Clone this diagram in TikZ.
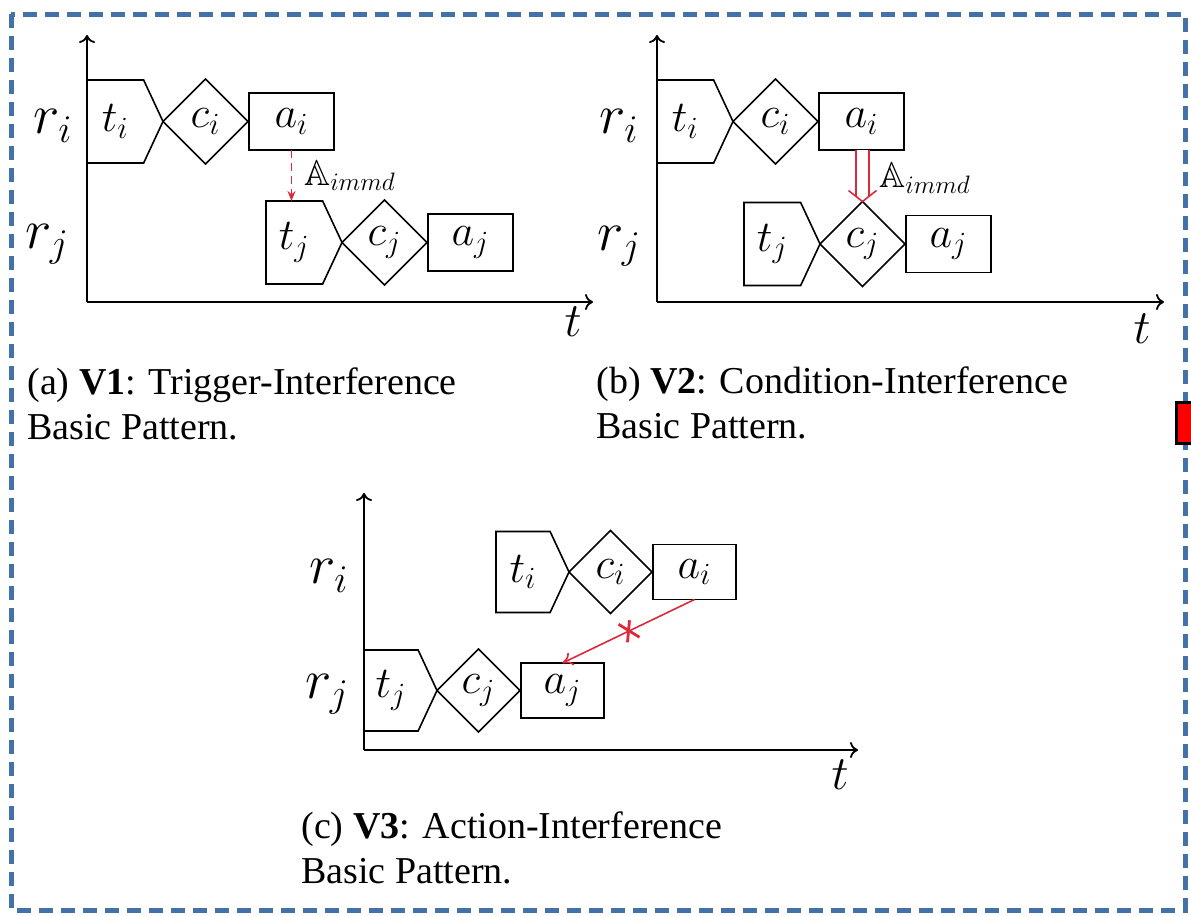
\RequirePackage{fix-cm}
\documentclass[tikz,border=0pt]{standalone}
\usepackage{amsmath,amssymb}
\usepackage{fontspec}
\setmainfont{Liberation Serif}
\usepackage{tikz}
\usetikzlibrary{shapes.geometric,shapes.symbols,arrows.meta,positioning,calc}
\definecolor{frameblue}{RGB}{68,114,168}
\definecolor{linkred}{RGB}{222,40,60}

\begin{document}
\begin{tikzpicture}[x=0.5pt,y=-0.5pt,
  every node/.style={font=\fontsize{22}{26}\selectfont},
  trig/.style={draw,signal,signal to=east,signal pointer angle=130,minimum width=38pt,minimum height=41.5pt,inner sep=0pt,outer sep=0pt,line width=0.8pt},
  cond/.style={draw,diamond,aspect=1,minimum size=42.5pt,inner sep=0pt,outer sep=0pt,line width=0.8pt},
  act/.style={draw,rectangle,minimum width=42.5pt,minimum height=28.5pt,inner sep=0pt,outer sep=0pt,line width=0.8pt},
  taxis/.style={line width=0.9pt,-{To[length=4pt,width=8pt]}},
  res/.style={font=\fontsize{28}{32}\selectfont},
  tlbl/.style={font=\fontsize{24}{28}\selectfont},
  immd/.style={font=\fontsize{18}{20}\selectfont,text=black,inner sep=0pt},
  capt/.style={font=\fontsize{19}{22.5}\selectfont,align=left,anchor=north west,inner sep=0pt}]
\useasboundingbox (0,0) rectangle (1191,916);
\draw[frameblue,line width=2.5pt,dash pattern=on 7pt off 4pt] (11,14) rectangle (1185,910);
\draw[fill=red,line width=1.5pt] (1176,402) rectangle (1205,443);

% (a) trigger interference
\coordinate (oa) at (87,302);
\draw[taxis] (oa) -- (87,35);
\draw[taxis] (oa) -- (593,302);
\node[trig,anchor=west] (ati) at (87,121.5) {$t_i$};
\node[cond,right=0pt of ati] (aci) {$c_i$};
\node[act,right=0.5pt of aci] (aai) {$a_i$};
\node[trig,anchor=west] (atj) at (266,242.5) {$t_j$};
\node[cond,right=0pt of atj] (acj) {$c_j$};
\node[act,right=0.5pt of acj] (aaj) {$a_j$};
\node[res] (ari) at (53,126) {$r_i$};
\node[res] (arj) at (47,244) {$r_j$};
\node[tlbl] (at) at (573,322) {$t$};
\draw[linkred,line width=0.8pt,dash pattern=on 4pt off 2.5pt,-{Stealth[length=5pt,width=4pt]}] (aai.south) -- (aai.south |- atj.north)
  node[immd,midway,right=6pt] (aimmd) {$\mathbb{A}_{immd}$};
\node[capt] (capa) at (27,367) {(a) \textbf{V1}: Trigger-Interference\\Basic Pattern.};

% (b) condition interference
\coordinate (ob) at (657,302);
\draw[taxis] (ob) -- (657,35);
\draw[taxis] (ob) -- (1164,302);
\node[trig,anchor=west] (bti) at (657,121.5) {$t_i$};
\node[cond,right=0pt of bti] (bci) {$c_i$};
\node[act,right=0.5pt of bci] (bai) {$a_i$};
\node[trig,anchor=west] (btj) at (744,244) {$t_j$};
\node[cond,right=0pt of btj] (bcj) {$c_j$};
\node[act,right=0.5pt of bcj] (baj) {$a_j$};
\node[res] (bri) at (619,126) {$r_i$};
\node[res] (brj) at (619,246) {$r_j$};
\node[tlbl] (bt) at (1142,329) {$t$};
\draw[linkred,double=white,double distance=5.6pt,line width=0.9pt] (bcj.north |- bai.south) -- ($(bcj.north)+(0,-5)$)
  node[immd,pos=0.6,right=8pt] (bimmd) {$\mathbb{A}_{immd}$};
\draw[linkred,line width=0.8pt,line join=miter] ($(bcj.north)+(-14,-11)$) -- (bcj.north) -- ($(bcj.north)+(14,-11)$);
\node[capt] (capb) at (596,366) {(b) \textbf{V2}: Condition-Interference\\Basic Pattern.};

% (c) action interference
\begin{scope}[trig/.append style={minimum width=36.5pt,minimum height=40.5pt},
  cond/.append style={minimum size=41.5pt},
  act/.append style={minimum width=41.5pt,minimum height=27.5pt}]
\coordinate (oc) at (364,750);
\draw[taxis] (oc) -- (364,493);
\draw[taxis] (oc) -- (858,750);
\node[trig,anchor=west] (cti) at (496,572) {$t_i$};
\node[cond,right=0pt of cti] (cci) {$c_i$};
\node[act,right=0.5pt of cci] (cai) {$a_i$};
\node[trig,anchor=west] (ctj) at (364,690.5) {$t_j$};
\node[cond,right=0pt of ctj] (ccj) {$c_j$};
\node[act,right=0.5pt of ccj] (caj) {$a_j$};
\node[res] (cri) at (329,576) {$r_i$};
\node[res] (crj) at (327,694) {$r_j$};
\node[tlbl] (ct) at (840,775) {$t$};
\draw[linkred,line width=0.8pt,-{To[length=5pt,width=7pt]}] (cai.south) -- (caj.north) coordinate[midway] (cx);
\draw[linkred,line width=1.4pt] ($(cx)+(-10,-7)$) -- ($(cx)+(11,6)$) ($(cx)+(1,-11)$) -- ($(cx)+(-1,11)$);
\end{scope}
\node[capt] (capc) at (301,811) {(c) \textbf{V3}: Action-Interference\\Basic Pattern.};
\end{tikzpicture}
\end{document}
